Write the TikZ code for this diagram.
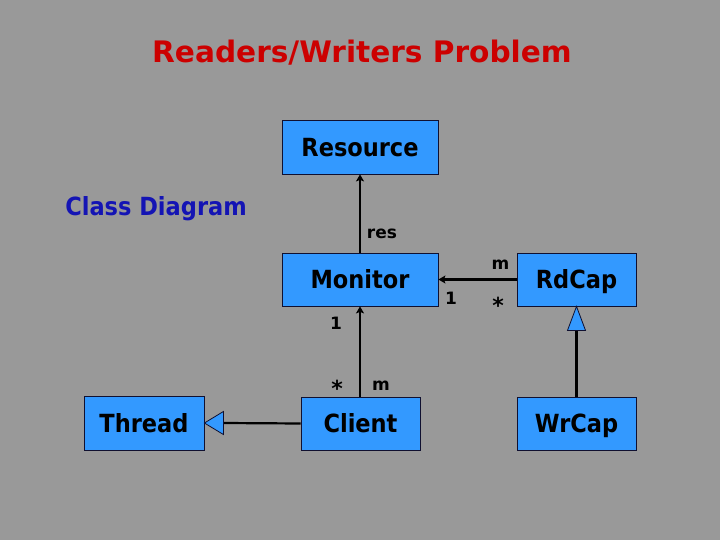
\documentclass[tikz,border=0pt]{standalone}
\usepackage{fontspec}
\setmainfont{DejaVu Sans}
\newfontfamily\boxfont[FakeStretch=0.9]{DejaVu Sans Bold}
\usetikzlibrary{arrows.meta}
\definecolor{bg}{HTML}{999999}
\definecolor{boxblue}{HTML}{3399FF}
\definecolor{titlered}{HTML}{CC0000}
\definecolor{cdblue}{HTML}{1414B4}
\definecolor{edgec}{HTML}{101030}
\begin{document}
\begin{tikzpicture}[x=1pt,y=-1pt,
  cls/.style={draw=edgec, line width=0.8pt, fill=boxblue, inner sep=0pt,
    minimum height=53pt, text height=18.2pt, text depth=0pt,
    font=\boxfont\fontsize{25}{30}\selectfont},
  lbl/.style={font=\bfseries\fontsize{17}{20}\selectfont, inner sep=0pt, anchor=base},
  star/.style={font=\bfseries\fontsize{22}{24}\selectfont, inner sep=0pt, anchor=base},
  assoc/.style={draw=black, line width=2.2pt, -{Stealth[length=7pt,width=8pt,inset=1.5pt]}},
  genline/.style={draw=black, line width=2.2pt},
  tri/.style={draw=edgec, line width=0.8pt, fill=boxblue, line join=miter}
]
\fill[bg] (0,0) rectangle (720,540);
\useasboundingbox (0,0) rectangle (720,540);

\node[anchor=base, inner sep=0pt, text=titlered, font=\bfseries\fontsize{29.6}{36}\selectfont]
  (title) at (362,63) {Readers/Writers Problem};
\node[anchor=base, inner sep=0pt, text=cdblue, font=\boxfont\fontsize{25}{30}\selectfont]
  (cd) at (156,215) {Class Diagram};

\node[cls, minimum width=156pt, minimum height=54pt] (Resource) at (360,147) {Resource};
\node[cls, minimum width=156pt] (Monitor) at (360,279.5) {Monitor};
\node[cls, minimum width=119pt] (RdCap) at (576.5,279.5) {RdCap};
\node[cls, minimum width=120pt, minimum height=54pt] (Thread) at (144,423) {Thread};
\node[cls, minimum width=119pt] (Client) at (360.5,423.5) {Client};
\node[cls, minimum width=119pt] (WrCap) at (576.5,423.5) {WrCap};

\draw[assoc] (Monitor.north) -- (Resource.south);
\draw[assoc] (Client.north -| Monitor.south) -- (Monitor.south);
\draw[assoc] (RdCap.west) -- (Monitor.east);

% generalization Client -> Thread
\draw[genline] (Client.west) -- ([xshift=19pt]Thread.east);
\draw[tri] (Thread.east) -- ++(19,-11.5) -- ++(0,23) -- cycle;
% generalization WrCap -> RdCap
\draw[genline] (WrCap.north) -- ([yshift=-24pt]RdCap.south);
\draw[tri] (RdCap.south) -- ++(-9,24) -- ++(18,0) -- cycle;

\node[lbl] (lres) at (382,239) {res};
\node[lbl] (lm1) at (500.5,269) {m};
\node[lbl] (l11) at (451,304) {1};
\node[star] (ls1) at (498,313.5) {*};
\node[lbl] (l12) at (336,329) {1};
\node[star] (ls2) at (337,396) {*};
\node[lbl] (lm2) at (381,390) {m};
\end{tikzpicture}
\end{document}
